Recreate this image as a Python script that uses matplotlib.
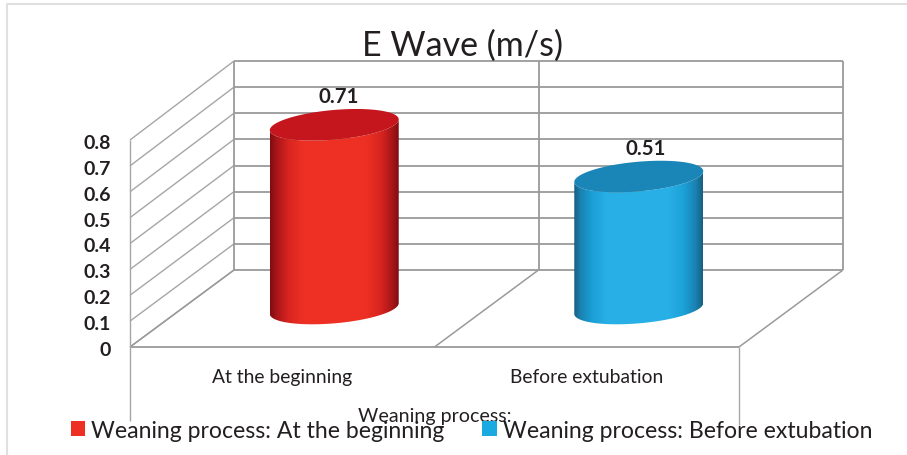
import numpy as np
import matplotlib
matplotlib.use("Agg")
import matplotlib.pyplot as plt
from matplotlib.colors import LinearSegmentedColormap
from matplotlib.lines import Line2D
from matplotlib.patches import Patch, Polygon
from matplotlib.transforms import ScaledTranslation

categories = ["At the beginning", "Before extubation"]
values = [0.71, 0.51]
value_labels = ["0.71", "0.51"]
y_ticks = [0, 0.1, 0.2, 0.3, 0.4, 0.5, 0.6, 0.7, 0.8]
y_tick_labels = ["0", "0.1", "0.2", "0.3", "0.4", "0.5", "0.6", "0.7", "0.8"]
series_names = ["Weaning process: At the beginning", "Weaning process: Before extubation"]
title = "E Wave (m/s)"
axis_label = "Weaning process:"

FONT = "Lato"
INK = "#231f20"
GRID = "#9a9a9a"
plt.rcParams["font.family"] = FONT

W, H = 907, 456
fig = plt.figure(figsize=(W / 100, H / 100), dpi=100, facecolor="white")
AX_L, AX_R, AX_T, AX_B = 130, 739, 141, 348
ax = fig.add_axes([AX_L / W, 1 - AX_B / H, (AX_R - AX_L) / W, (AX_B - AX_T) / H])
ax.set_xlim(0, 2)
ax.set_ylim(0, 0.8)
ax.patch.set_visible(False)
for s in ax.spines.values():
    s.set_visible(False)

PX = 2 / (AX_R - AX_L)          # data units per pixel, horizontal
PY = 0.8 / (AX_B - AX_T)        # data units per pixel, vertical
DX, DY = 104 * PX, 77 * PY      # depth offset of the back wall
BACK = 209 / 207                # slight perspective growth of the back wall


def ln(xs, ys, lw=1.3, c=GRID, z=1):
    ax.plot(xs, ys, color=c, lw=lw, clip_on=False, zorder=z, solid_capstyle="butt")


# walls and floor
for t in y_ticks:
    yb = DY + t * BACK
    ln([DX, 2 + DX], [yb, yb])
    ln([0, DX], [t, yb], lw=1.0, c="#a6a6a6")
for x in (0, 1, 2):
    ln([x + DX, x + DX], [DY, DY + 0.8 * BACK])
    ln([x, x + DX], [0, DY], lw=1.1)
ln([0, 2], [0, 0])
ln([0, 0], [0, 0.8], lw=1.0, c="#a6a6a6")
ln([0, 0], [0, -74 * PY], lw=1.0, c="#a6a6a6")
ln([2, 2], [0, -78 * PY], lw=1.0, c="#a6a6a6")

# cylinders
STOPS = [0, 0.05, 0.14, 0.26, 0.74, 0.86, 0.95, 1]
RED = ["#7e0d10", "#a81518", "#d82520", "#ee3024", "#ee3024", "#d82520", "#a81518", "#7e0d10"]
BLUE = ["#175f80", "#1a82b2", "#1b9fd6", "#29b1e7", "#27afe6", "#1b9fd6", "#1a7fae", "#175f80"]
TOPS = ["#c4161c", "#1a86b8"]
RAMPS = [RED, BLUE]
RX, SLANT, RY = 60.6 * PX, 22 * PX, 15.8 * PY
HALF = np.hypot(RX, SLANT)
tt = np.linspace(0, 2 * np.pi, 240)
T0 = np.arctan2(SLANT, RX)      # rim parameter of the rightmost point


def rim(cx, cy, t):
    return cx + RX * np.cos(t) + SLANT * np.sin(t), cy + RY * np.sin(t)


for i, v in enumerate(values):
    cx = i + 0.5 + DX / 2
    cy = DY / 2
    top = cy + v
    tx, ty = rim(cx, top, tt)
    t_low = np.linspace(T0 + np.pi, T0 + 2 * np.pi, 120)
    lx, ly = rim(cx, cy, t_low)
    ux, uy = rim(cx, top, t_low[::-1])
    outline = Polygon(np.column_stack([np.r_[lx, ux], np.r_[ly, uy]]),
                      closed=True, transform=ax.transData, fc="none", ec="none")
    ax.add_patch(outline)
    outline.set_clip_on(False)
    cmap = LinearSegmentedColormap.from_list("c", list(zip(STOPS, RAMPS[i])))
    grad = np.linspace(0, 1, 256)[None, :]
    im = ax.imshow(grad, cmap=cmap, aspect="auto", interpolation="bilinear",
                   extent=[cx - HALF, cx + HALF, cy - 2 * RY, top + 2 * RY],
                   origin="lower", zorder=3)
    im.set_clip_path(outline)
    im.set_clip_box(fig.bbox)
    ax.fill(tx, ty, color=TOPS[i], lw=0, clip_on=False, zorder=4)
    ax.annotate(value_labels[i], (cx, top), xytext=(4 if i == 0 else 6.5, 29),
                textcoords="offset pixels", ha="center", va="center",
                fontsize=14.7, fontweight="bold", color=INK, zorder=5,
                annotation_clip=False)

ax.set_xlim(0, 2)
ax.set_ylim(0, 0.8)

# axes text
ax.set_xticks([0.5, 1.5], categories)
ax.tick_params(axis="x", length=0, pad=15, labelsize=13.9, labelcolor=INK)
ax.set_yticks(y_ticks, y_tick_labels)
ax.tick_params(axis="y", length=0, pad=14, labelsize=14, labelcolor=INK)
shift = ScaledTranslation(0, -1 / 100, fig.dpi_scale_trans)
for lab in ax.get_yticklabels():
    lab.set_fontweight("bold")
    lab.set_transform(lab.get_transform() + shift)
fig.text(435 / W, 1 - 417 / H, axis_label, ha="center", va="center", fontsize=14.1, color=INK)
fig.text(462 / W, 1 - 46 / H, title, ha="center", va="center", fontsize=24.5, color=INK)

handles = [Patch(fc="#ee3024", ec="none"), Patch(fc="#1ba9e1", ec="none")]
leg = fig.legend(handles, series_names, ncol=2, frameon=False, fontsize=16.6,
                 loc="center left", bbox_to_anchor=(71 / W, 1 - 431.5 / H),
                 bbox_transform=fig.transFigure, handlelength=0.61, handleheight=0.61,
                 handletextpad=0.26, columnspacing=1.65, labelcolor=INK,
                 borderpad=0, borderaxespad=0)

# outer frame of the page
fig.add_artist(Line2D([7 / W, 7 / W, 1], [0, 1 - 5 / H, 1 - 5 / H], color="#e0e0e0", lw=1.5))

fig.savefig("out.png", dpi=100)
